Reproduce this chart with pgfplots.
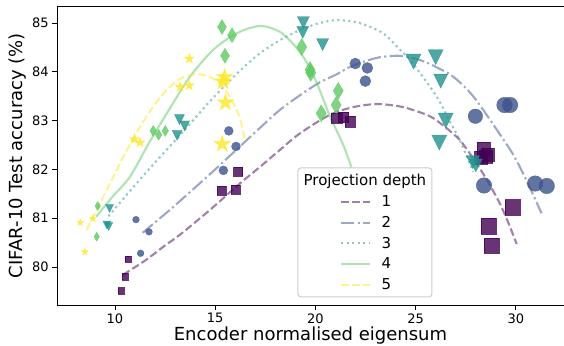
\documentclass[border=0pt]{standalone}
\usepackage{fontspec}
\setmainfont{DejaVu Sans}
\usepackage{pgfplots}
\pgfplotsset{compat=1.18}
\definecolor{c1}{HTML}{440154}
\definecolor{c2}{HTML}{3B528B}
\definecolor{c3}{HTML}{21918C}
\definecolor{c4}{HTML}{5EC962}
\definecolor{c5}{HTML}{FDE725}
\pgfdeclareplotmark{vtri}{%
  \pgfpathmoveto{\pgfqpoint{0pt}{-\pgfplotmarksize}}%
  \pgfpathlineto{\pgfqpoint{\pgfplotmarksize}{\pgfplotmarksize}}%
  \pgfpathlineto{\pgfqpoint{-\pgfplotmarksize}{\pgfplotmarksize}}%
  \pgfpathclose
  \pgfusepathqfillstroke}
\pgfdeclareplotmark{tdiam}{%
  \pgfpathmoveto{\pgfqpoint{0pt}{\pgfplotmarksize}}%
  \pgfpathlineto{\pgfqpoint{0.6\pgfplotmarksize}{0pt}}%
  \pgfpathlineto{\pgfqpoint{0pt}{-\pgfplotmarksize}}%
  \pgfpathlineto{\pgfqpoint{-0.6\pgfplotmarksize}{0pt}}%
  \pgfpathclose
  \pgfusepathqfillstroke}
\pgfdeclareplotmark{fstar}{%
  \pgfpathmoveto{\pgfqpointpolar{90}{\pgfplotmarksize}}%
  \pgfpathlineto{\pgfqpointpolar{126}{0.382\pgfplotmarksize}}%
  \pgfpathlineto{\pgfqpointpolar{162}{\pgfplotmarksize}}%
  \pgfpathlineto{\pgfqpointpolar{198}{0.382\pgfplotmarksize}}%
  \pgfpathlineto{\pgfqpointpolar{234}{\pgfplotmarksize}}%
  \pgfpathlineto{\pgfqpointpolar{270}{0.382\pgfplotmarksize}}%
  \pgfpathlineto{\pgfqpointpolar{306}{\pgfplotmarksize}}%
  \pgfpathlineto{\pgfqpointpolar{342}{0.382\pgfplotmarksize}}%
  \pgfpathlineto{\pgfqpointpolar{18}{\pgfplotmarksize}}%
  \pgfpathlineto{\pgfqpointpolar{54}{0.382\pgfplotmarksize}}%
  \pgfpathclose
  \pgfusepathqfillstroke}

\pgfplotstableread{
x y s
10.30 79.51 3.3
10.50 79.80 3.3
10.66 80.16 3.3
15.32 81.57 4.5
16.02 81.59 4.5
16.14 81.95 4.5
21.06 83.05 5.3
21.39 83.07 5.3
21.73 82.98 5.3
28.38 82.43 6.5
28.51 82.27 6.5
28.26 82.25 6.5
28.60 82.30 6.5
29.83 81.22 7.8
28.64 80.84 7.8
28.79 80.44 7.8
}\depthA
\pgfplotstableread{
x y s
11.05 80.97 3.4
11.70 80.72 3.4
11.28 80.28 3.4
15.68 82.79 4.5
16.04 82.47 4.5
15.41 81.98 4.5
21.99 84.17 5.5
22.59 84.08 5.5
22.49 83.81 5.5
27.98 83.09 7.3
29.43 83.32 7.8
29.71 83.32 7.8
28.41 81.67 7.8
30.96 81.71 7.8
31.54 81.66 7.8
}\depthB
\pgfplotstableread{
x y s
9.73 81.20 4
9.60 80.86 4
9.69 80.83 4
13.22 83.02 5
13.48 82.89 5
13.10 82.70 5
19.40 85.01 6
19.37 84.81 6
20.36 84.56 6
24.89 84.21 7.5
26.00 84.30 7.5
26.25 83.81 7
26.50 83.00 7.5
26.18 82.55 7.5
27.85 82.15 6.5
28.00 82.08 6.5
}\depthC
\pgfplotstableread{
x y s
9.14 81.25 4.5
9.09 80.62 4.5
11.91 82.79 5.5
12.18 82.71 5.5
12.51 82.79 5.5
15.34 84.92 7.5
15.84 84.75 7.5
15.49 84.33 7.5
19.32 84.51 8.5
19.73 84.04 8.5
19.77 83.98 8.5
21.14 83.61 8.5
21.03 83.32 8.5
20.29 83.15 8.5
}\depthD
\pgfplotstableread{
x y s
8.27 80.91 3.7
8.90 80.99 3.7
8.50 80.31 3.7
10.97 82.62 5.2
11.25 82.55 5.2
13.71 84.27 5.2
13.25 83.69 5.2
13.71 83.72 5.2
15.47 83.89 8.8
15.39 83.80 8.8
15.51 83.37 8.8
15.35 82.52 8.8
}\depthE

\begin{document}
\begin{tikzpicture}
\begin{axis}[name=ax, scale only axis, width=507pt, height=299pt,
  xmin=7.11, xmax=32.40, ymin=79.22, ymax=85.35,
  axis x line=box, axis y line=left,
  axis line style={-, line width=0.8pt, black},
  xtick={10,15,20,25,30}, ytick={80,81,82,83,84,85},
  xtick pos=left, ytick pos=left, tick align=outside,
  major tick length=4.9pt, tick style={line width=0.8pt, black},
  /pgf/number format/assume math mode=true,
  tick label style={font=\fontsize{13}{15}\selectfont},
  label style={font=\fontsize{18}{21}\selectfont},
  xlabel={Encoder normalised eigensum},
  xlabel style={yshift=3.5pt},
  ylabel={CIFAR-10 Test accuracy (\%)},
  ylabel style={yshift=-1pt},
  legend style={at={(axis cs:21.22,81.55)}, anchor=north west, draw=none, fill=none,
    inner sep=0pt, row sep=0pt, column sep=10.5pt,
    font=\fontsize{15}{18}\selectfont,
    nodes={inner sep=0pt, minimum height=20.7pt}, cells={anchor=west}},
  legend image code/.code={\draw[#1] (0pt,0pt) -- (29pt,0pt);},
]
\addplot[forget plot, scatter, only marks, mark=square*, point meta=y,
  scatter/use mapped color={draw=c1, fill=c1},
  mark options={line width=0.3pt, opacity=0.8},
  visualization depends on={\thisrow{s}\as\msz},
  scatter/@pre marker code/.append style={/tikz/mark size=\msz}] table[x=x,y=y] {\depthA};
\addplot[forget plot, scatter, only marks, mark=*, point meta=y,
  scatter/use mapped color={draw=c2, fill=c2},
  mark options={line width=0.3pt, opacity=0.8},
  visualization depends on={\thisrow{s}\as\msz},
  scatter/@pre marker code/.append style={/tikz/mark size=\msz}] table[x=x,y=y] {\depthB};
\addplot[forget plot, scatter, only marks, mark=vtri, point meta=y,
  scatter/use mapped color={draw=c3, fill=c3},
  mark options={line width=0.3pt, opacity=0.8},
  visualization depends on={\thisrow{s}\as\msz},
  scatter/@pre marker code/.append style={/tikz/mark size=\msz}] table[x=x,y=y] {\depthC};
\addplot[forget plot, scatter, only marks, mark=tdiam, point meta=y,
  scatter/use mapped color={draw=c4, fill=c4},
  mark options={line width=0.3pt, opacity=0.8},
  visualization depends on={\thisrow{s}\as\msz},
  scatter/@pre marker code/.append style={/tikz/mark size=\msz}] table[x=x,y=y] {\depthD};
\addplot[forget plot, scatter, only marks, mark=fstar, point meta=y,
  scatter/use mapped color={draw=c5, fill=c5},
  mark options={line width=0.3pt, opacity=0.8},
  visualization depends on={\thisrow{s}\as\msz},
  scatter/@pre marker code/.append style={/tikz/mark size=\msz}] table[x=x,y=y] {\depthE};

\addplot[c1, opacity=0.5, line width=2.1pt, dash pattern=on 7.7pt off 3.3pt, smooth, no marks] coordinates {
(10.40,79.84) (11.50,80.13) (12.50,80.44) (13.24,80.66) (14.74,81.17) (16.23,81.71)
(17.23,82.05) (18.23,82.40) (19.23,82.74) (20.72,83.12) (21.72,83.26) (22.50,83.32)
(23.22,83.34) (24.22,83.29) (25.00,83.20) (25.88,83.05) (27.04,82.67) (27.54,82.42)
(28.20,82.02) (28.70,81.68) (29.20,81.30) (29.60,80.93) (30.04,80.47)};
\addlegendentry{1}
\addplot[c2, opacity=0.5, line width=2.1pt, dash pattern=on 13.3pt off 3.3pt on 2.1pt off 3.3pt, smooth, no marks] coordinates {
(11.38,80.70) (12.74,81.17) (13.24,81.35) (15.00,82.00) (17.23,82.85) (18.23,83.22)
(19.23,83.52) (20.20,83.78) (21.06,83.95) (21.72,84.10) (22.50,84.22) (23.22,84.30)
(24.05,84.33) (24.71,84.30) (25.50,84.20) (26.21,84.06) (26.71,83.95) (27.30,83.75)
(27.87,83.50) (28.37,83.22) (29.20,82.72) (29.87,82.30) (30.50,81.80) (31.28,81.10)};
\addlegendentry{2}
\addplot[c3, opacity=0.5, line width=2.1pt, dash pattern=on 2.1pt off 3.4pt, smooth, no marks] coordinates {
(9.67,81.04) (11.58,81.95) (13.24,82.70) (14.90,83.47) (16.23,84.02) (17.23,84.38)
(18.23,84.65) (19.30,84.87) (20.20,85.00) (21.10,85.06) (22.20,85.00) (23.38,84.79)
(24.22,84.45) (24.71,84.25) (25.21,83.98) (25.88,83.60) (26.21,83.38) (26.71,82.98)
(27.20,82.60) (27.87,81.95)};
\addlegendentry{3}
\addplot[c4, opacity=0.5, line width=2.1pt, smooth, no marks] coordinates {
(9.07,81.03) (9.90,81.45) (10.75,81.85) (11.75,82.58) (12.74,83.25) (13.74,83.90)
(14.90,84.45) (16.07,84.79) (17.23,84.94) (18.23,84.82) (19.00,84.52) (19.56,84.20)
(20.06,83.78) (20.72,83.10) (21.39,82.50) (21.80,82.04)};
\addlegendentry{4}
\addplot[c5, opacity=0.5, line width=2.1pt, dash pattern=on 7.7pt off 3.3pt, smooth, no marks] coordinates {
(8.59,80.76) (9.25,81.30) (9.92,81.85) (10.60,82.40) (11.25,82.87) (11.90,83.28)
(12.58,83.63) (13.30,83.87) (14.08,83.95) (14.70,83.90) (15.24,83.76) (15.70,83.50)
(16.07,83.22) (16.30,82.95) (16.48,82.60)};
\addlegendentry{5}

\draw[draw=black!20, fill=white, fill opacity=0.8, rounded corners=3pt, line width=1pt]
  (axis cs:19.13,79.385) rectangle (axis cs:25.81,82.03);
\node[anchor=base, font=\fontsize{15}{18}\selectfont] at (axis cs:22.47,81.66) {Projection depth};
\end{axis}
\pgfresetboundingbox
\path[use as bounding box] ([xshift=-57pt,yshift=-40pt]ax.south west) rectangle ([yshift=6pt]ax.north east);
\end{tikzpicture}
\end{document}
